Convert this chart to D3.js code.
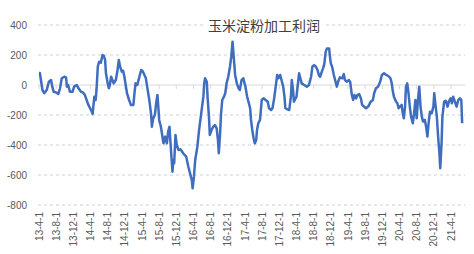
<!DOCTYPE html>
<html><head><meta charset="utf-8">
<script src="https://cdn.jsdelivr.net/npm/d3@7"></script>
<style>body{margin:0;background:#fff}svg{display:block}</style>
</head><body><svg id="c" width="474" height="254"></svg>
<script>
const title = "玉米淀粉加工利润";
// x = months since 2013-04-01
const months = [0.0,0.2,0.8,1.2,1.8,2.3,2.8,3.1,3.4,4.1,4.5,4.9,5.3,5.9,6.3,6.5,6.8,7.2,7.8,8.2,8.8,9.2,9.8,10.3,10.7,11.1,11.5,11.9,12.3,12.5,12.7,12.9,13.2,13.4,13.7,14.0,14.4,14.8,15.1,15.4,15.6,16.0,16.3,16.5,16.8,17.1,17.4,17.9,18.3,18.6,18.9,19.3,19.6,19.9,20.2,20.5,21.0,21.4,22.0,22.2,22.5,22.9,23.3,23.8,24.2,24.9,
25.2,25.7,26.1,26.3,26.6,27.0,27.3,27.6,27.8,28.0,28.4,28.7,29.0,29.4,29.8,30.1,30.4,30.6,30.8,31.1,31.3,31.5,31.8,32.1,32.5,33.0,33.6,34.3,34.8,35.2,35.6,35.8,36.1,36.4,36.9,37.3,37.8,38.3,38.5,38.7,39.1,39.3,39.6,39.8,40.2,40.6,41.0,41.4,41.7,41.9,42.2,42.4,42.7,43.1,43.4,43.7,44.1,44.5,44.8,45.1,45.4,45.7,46.1,46.5,46.8,47.2,47.6,48.1,48.5,48.8,49.2,49.4,49.7,50.0,50.3,50.6,50.8,51.1,51.5,51.9,52.3,52.8,53.3,53.6,54.1,54.4,54.8,55.2,55.5,55.8,56.2,56.5,56.9,57.2,57.4,57.9,58.3,58.7,58.9,59.2,59.4,59.6,60.0,60.3,60.6,60.9,61.2,61.8,62.4,62.9,63.4,63.7,64.1,64.5,64.9,65.2,65.5,65.9,66.2,66.5,66.8,67.1,67.6,67.8,68.0,68.3,68.7,69.0,69.4,69.7,70.1,70.7,71.0,71.3,71.7,72.2,72.5,72.9,73.2,73.5,73.9,74.2,74.6,75.0,75.3,75.7,76.2,76.7,77.3,77.8,78.1,78.5,79.0,79.5,79.9,80.4,80.9,81.4,81.9,82.2,82.4,82.7,83.2,83.5,83.8,84.1,84.5,84.7,85.0,85.3,85.5,85.8,86.1,86.4,86.7,87.1,87.4,87.7,88.0,88.3,88.6,88.9,89.2,89.5,89.9,90.2,90.5,90.8,91.1,91.5,91.9,92.1,92.3,92.7,93.0,93.3,93.5,93.8,94.0,94.4,94.8,95.2,95.5,95.9,96.2,96.5,96.9,97.3,97.7,98.1,98.4,98.6];
const profit = [80,80,-33,-55,-33,22,33,-11,-45,-51,-60,-22,45,55,51,-11,0,-45,-45,-11,0,-22,-45,-51,-67,-100,-133,-155,-178,-193,-133,-78,-100,-33,122,155,148,200,195,167,78,11,-22,0,55,33,11,33,100,167,122,89,95,55,0,-55,-100,-133,-133,-67,11,0,45,100,90,45,
-11,-100,-189,-278,-222,-200,-122,-67,-144,-233,-278,-333,-389,-344,-389,-311,-278,-367,-455,-578,-500,-522,-333,-400,-433,-429,-455,-478,-545,-589,-633,-689,-611,-500,-411,-300,-189,-78,11,45,22,-89,-211,-333,-300,-278,-267,-289,-367,-455,-322,-200,-100,-78,-55,11,55,122,189,289,178,67,11,-22,-33,33,45,-11,-78,-111,-155,-233,-300,-355,-389,-367,-300,-255,-233,-100,-89,-100,-111,-155,-167,-155,-89,0,67,45,67,33,-11,-78,-155,-162,-167,-78,33,-33,-111,-100,-78,0,78,45,11,0,-11,0,55,122,133,122,100,67,55,89,111,144,222,244,244,189,144,122,67,33,-11,22,51,45,73,33,22,33,22,-67,-100,-67,-89,-67,-60,-89,-133,-144,-155,-144,-111,-100,-55,-22,-11,22,67,78,67,60,45,11,-33,-78,-111,-122,-155,-144,-133,-178,-222,-144,-11,11,-55,-144,-211,-255,-189,-100,-222,-100,-11,-144,-211,-244,-233,-278,-344,-250,-178,-189,-144,-55,-111,-211,-344,-455,-555,-389,-211,-111,-105,-144,-111,-89,-122,-78,-111,-144,-100,-89,-100,-255];
const tickLabels = ["13-4-1","13-8-1","13-12-1","14-4-1","14-8-1","14-12-1","15-4-1","15-8-1","15-12-1","16-4-1","16-8-1","16-12-1","17-4-1","17-8-1","17-12-1","18-4-1","18-8-1","18-12-1","19-4-1","19-8-1","19-12-1","20-4-1","20-8-1","20-12-1","21-4-1"];
const yTicks = [400,200,0,-200,-400,-600,-800];

const svg = d3.select("#c");
const x = d3.scaleLinear().domain([0, 96]).range([39, 451]);
const y = d3.scaleLinear().domain([-800, 400]).range([205, 25]);
const data = months.map((m,i)=>({m, v: profit[i]}));

// gridlines
svg.append("g").selectAll("line").data(yTicks.filter(d=>d!==0)).join("line")
  .attr("x1",38).attr("x2",465).attr("y1",d=>y(d)).attr("y2",d=>y(d))
  .attr("stroke","#c9d1de").attr("stroke-width",1).attr("stroke-dasharray","3,3");
// zero axis
svg.append("line").attr("x1",38).attr("x2",465).attr("y1",y(0)).attr("y2",y(0))
  .attr("stroke","#d9d9d9").attr("stroke-width",1);
svg.append("g").selectAll("line").data(tickLabels).join("line")
  .attr("x1",(d,i)=>x(i*4)).attr("x2",(d,i)=>x(i*4)).attr("y1",y(0)).attr("y2",y(0)+4)
  .attr("stroke","#d9d9d9").attr("stroke-width",1);

// y labels
svg.append("g").selectAll("text").data(yTicks).join("text")
  .attr("x",27).attr("y",d=>y(d)).attr("dy","0.35em").attr("text-anchor","end")
  .attr("font-family","Liberation Sans, Arial, sans-serif").attr("font-size",10).attr("fill","#595959")
  .text(d=>d);

// x labels rotated
svg.append("g").selectAll("text").data(tickLabels).join("text")
  .attr("transform",(d,i)=>`translate(${x(i*4)+3.5},212) rotate(-90)`)
  .attr("text-anchor","end")
  .attr("font-family","Liberation Sans, Arial, sans-serif").attr("font-size",10).attr("fill","#595959")
  .text(d=>d);

// line
svg.append("path").datum(data)
  .attr("d", d3.line().x(d=>x(d.m)).y(d=>y(d.v)))
  .attr("fill","none").attr("stroke","#3f6dbf").attr("stroke-width",2.5).attr("stroke-linejoin","round");

// title
svg.append("rect").attr("x",204).attr("y",18).attr("width",120).attr("height",16).attr("fill","#fff");
svg.append("text").attr("x",264).attr("y",31).attr("text-anchor","middle")
  .attr("font-family","Noto Sans CJK SC, sans-serif").attr("font-size",14).attr("fill","#404040")
  .text(title);
</script></body></html>
